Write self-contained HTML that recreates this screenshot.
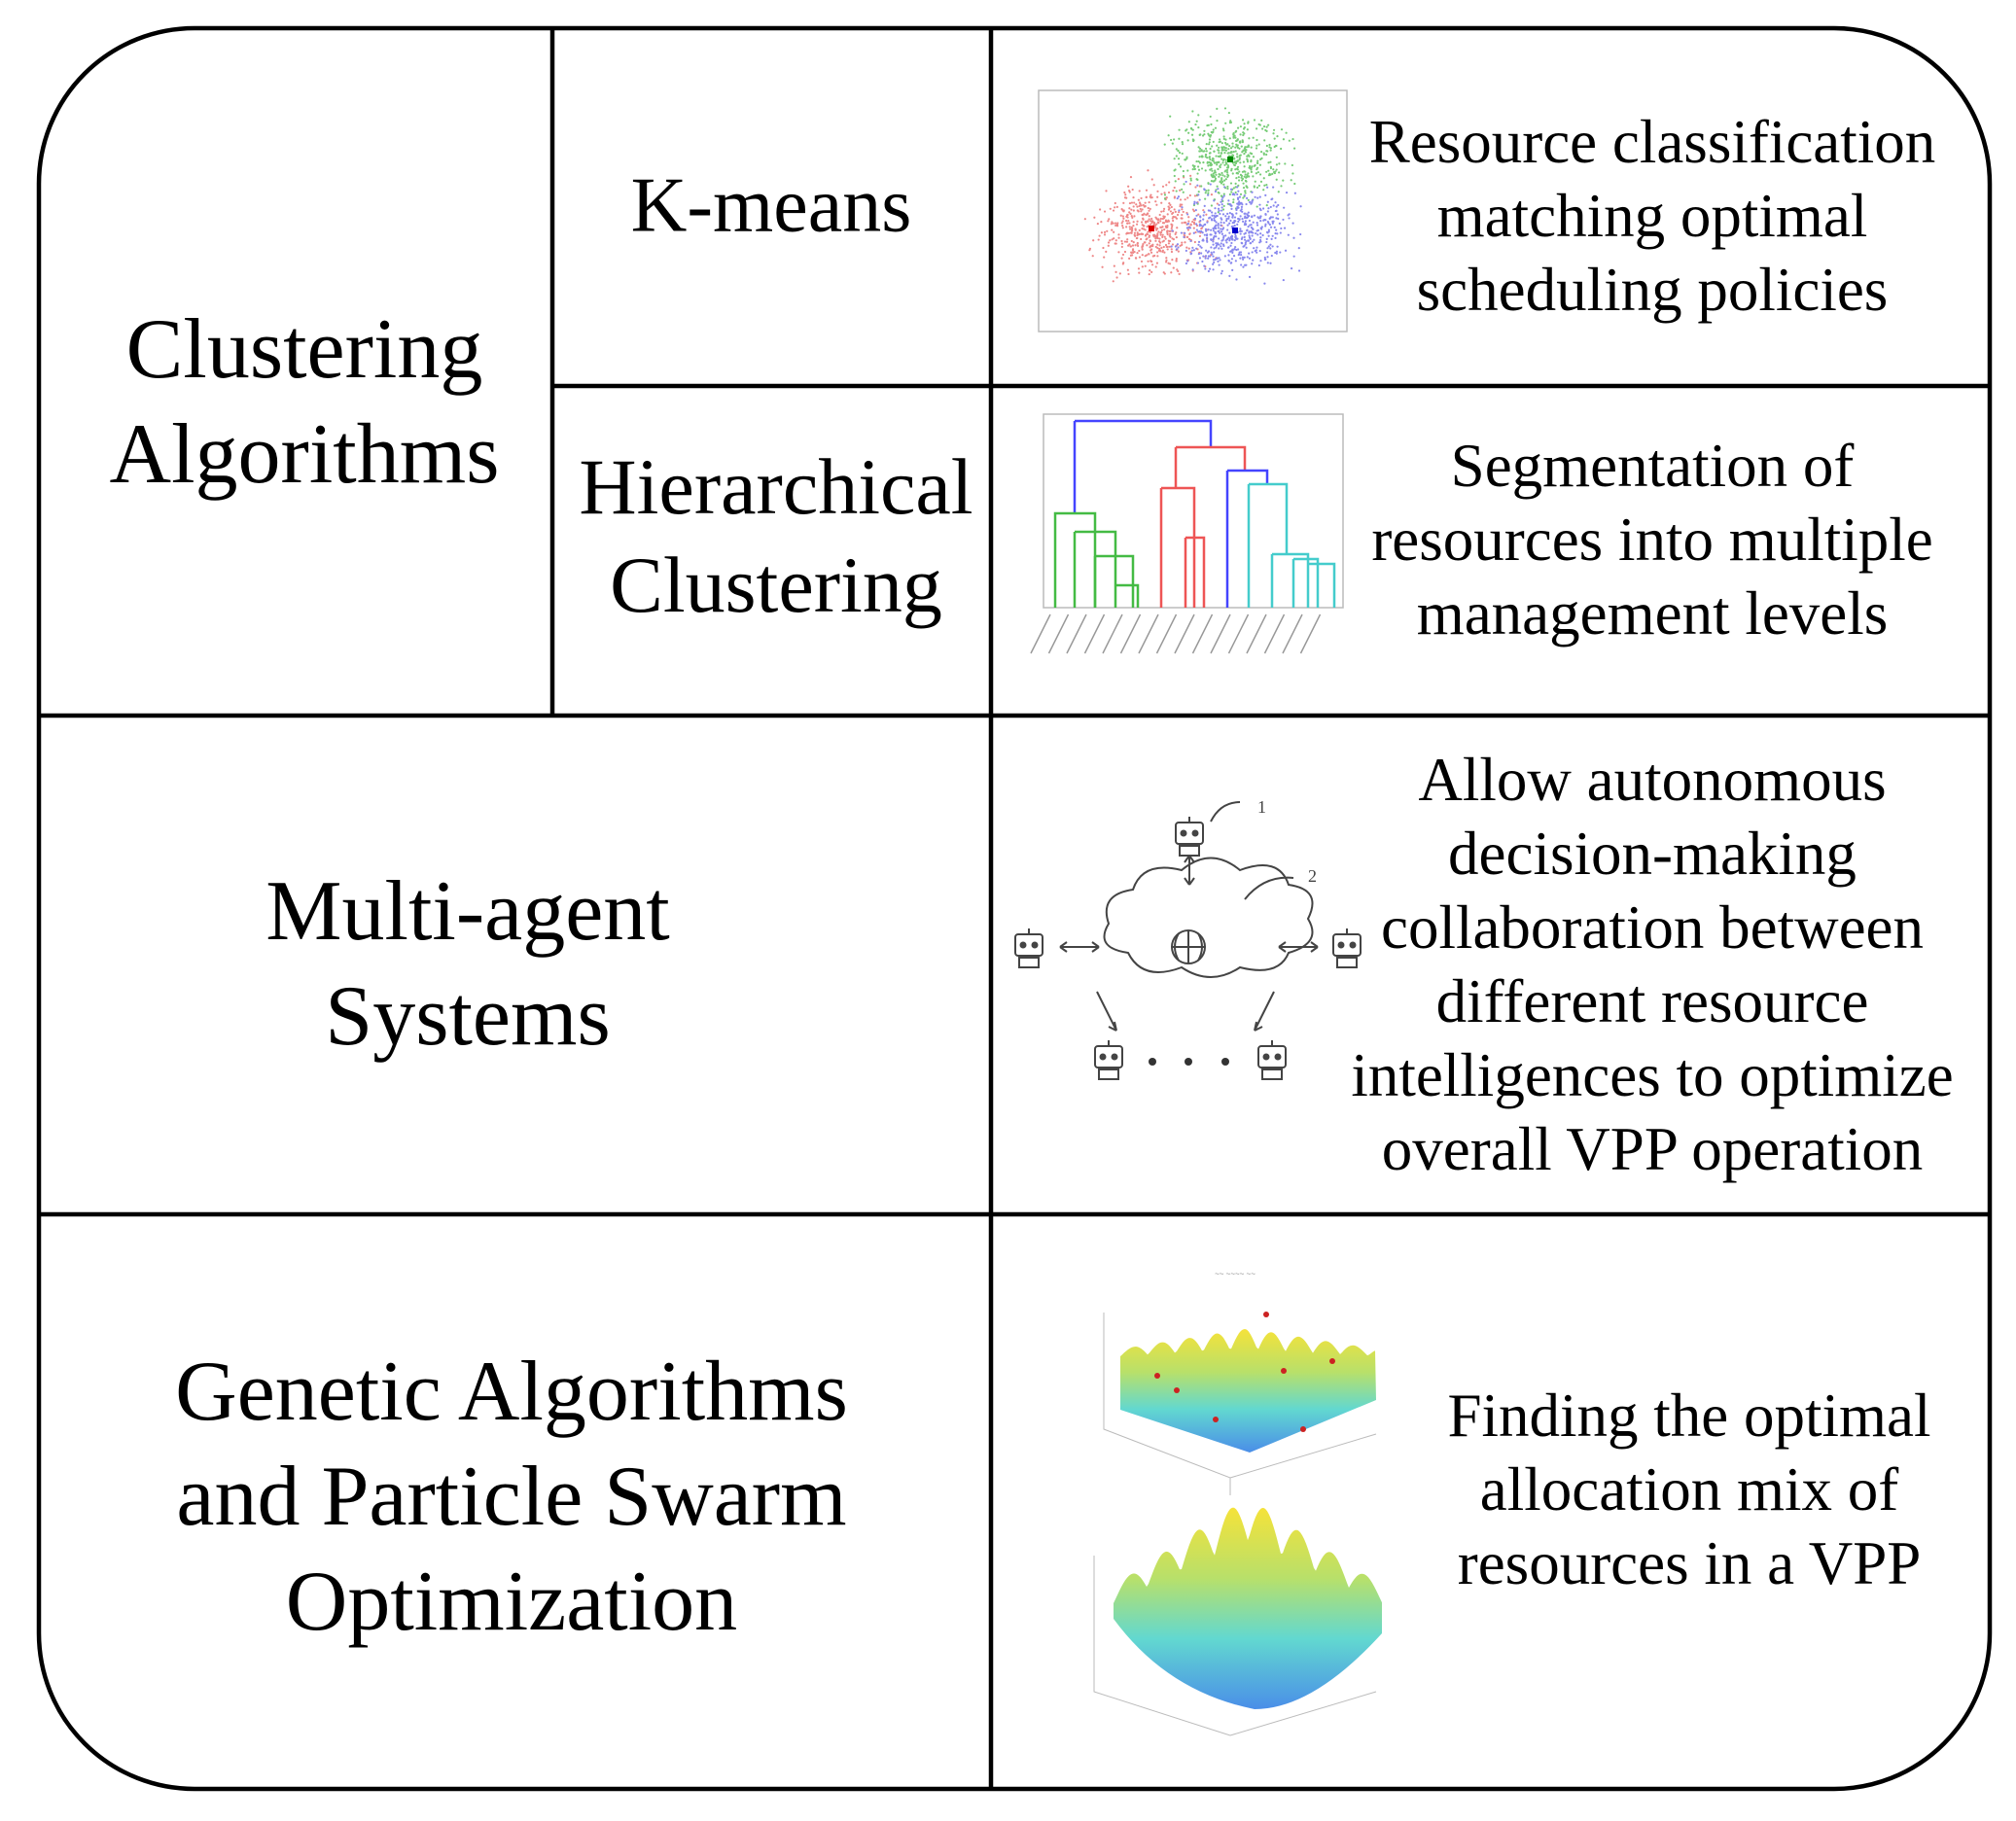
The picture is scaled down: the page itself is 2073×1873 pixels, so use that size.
<!DOCTYPE html>
<html><head><meta charset="utf-8">
<style>
html,body{margin:0;padding:0;background:#fff;}
body{width:2073px;height:1873px;position:relative;overflow:hidden;font-family:"Liberation Serif",serif;color:#000;}
.t{position:absolute;transform:translate(-50%,-50%);white-space:nowrap;text-align:center;}
.b{font-size:88px;line-height:108px;}
.s{font-size:63px;line-height:76px;}
</style></head><body>
<svg width="2073" height="1873" style="position:absolute;left:0;top:0" id="sv">
<rect x="40" y="29" width="2006" height="1811" rx="160" ry="160" fill="none" stroke="#000" stroke-width="4.5"/>
<line x1="568" y1="29" x2="568" y2="736" stroke="#000" stroke-width="4.5"/>
<line x1="1019" y1="29" x2="1019" y2="1840" stroke="#000" stroke-width="4.5"/>
<line x1="568" y1="397" x2="2046" y2="397" stroke="#000" stroke-width="4.5"/>
<line x1="40" y1="736" x2="2046" y2="736" stroke="#000" stroke-width="4.5"/>
<line x1="40" y1="1249" x2="2046" y2="1249" stroke="#000" stroke-width="4.5"/>
<!-- scatter -->
<rect x="1068" y="93" width="317" height="248" fill="none" stroke="#bbb" stroke-width="1.5"/>
<g id="dots"></g>
<rect x="1181" y="232" width="6" height="6" fill="#d00"/>
<rect x="1262" y="161" width="6" height="6" fill="#080"/>
<rect x="1267" y="234" width="6" height="6" fill="#00c"/>
<!-- dendrogram -->
<rect x="1073" y="426" width="308" height="199" fill="none" stroke="#bbb" stroke-width="1.5"/>
<g fill="none" stroke-width="2.5">
<path d="M1105 433 H1245 V460" stroke="#44f"/>
<path d="M1105 433 V528" stroke="#44f"/>
<path d="M1085 625 V528 H1126 V625" stroke="#4b4"/>
<path d="M1105 547 H1147 V625 M1105 547 V625 M1126 572 H1165 V625 M1126 572 V625 M1147 602 H1170 V625" stroke="#4b4"/>
<path d="M1209 460 H1280 V484 M1209 460 V502 M1194 502 H1228 V625 M1194 502 V625 M1219 553 H1238 V625 M1219 553 V625" stroke="#e55"/>
<path d="M1262 484 H1303 V498 M1262 484 V625" stroke="#44f"/>
<path d="M1284 498 H1323 V570 M1284 498 V625 M1308 570 H1345 V625 M1308 570 V625 M1330 575 H1355 V625 M1330 575 V625 M1345 580 H1372 V625" stroke="#4cc"/>
</g>
<g id="dlab" stroke="#999" stroke-width="1.5"></g>
<!-- multi-agent -->
<g fill="none" stroke="#444" stroke-width="2">
<path d="M1140 950 q-10 -30 25 -35 q10 -30 50 -20 q30 -25 60 0 q40 -15 50 15 q35 5 20 35 q15 25 -20 35 q-10 25 -50 15 q-30 20 -60 0 q-40 15 -55 -15 q-35 -5 -20 -30z" fill="#fff"/>
<circle cx="1222" cy="974" r="17"/><path d="M1205 974h34M1222 957v34M1212 960q-8 14 0 28M1232 960q8 14 0 28"/>
<path d="M1223 880v30M1223 910l-5-7M1223 910l5-7M1223 880l-5 7M1223 880l5 7"/>
<path d="M1090 974h40M1090 974l7-5M1090 974l7 5M1130 974l-7-5M1130 974l-7 5"/>
<path d="M1315 974h40M1315 974l7-5M1315 974l7 5M1355 974l-7-5M1355 974l-7 5"/>
<path d="M1148 1060l-20 -40M1148 1060l-2-9M1148 1060l-8-4"/>
<path d="M1290 1060l20 -40M1290 1060l2-9M1290 1060l8-4"/>
<path d="M1245 845q10-20 30-20M1280 925q20-25 50-22"/>
</g>
<g id="robots" fill="#fff" stroke="#444" stroke-width="2"></g>
<g fill="#333"><circle cx="1185" cy="1092" r="4"/><circle cx="1222" cy="1092" r="4"/><circle cx="1260" cy="1092" r="4"/></g>
<g font-family="Liberation Serif,serif" font-size="18" fill="#444"><text x="1293" y="836">1</text><text x="1345" y="907">2</text></g>
<!-- surfaces -->
<defs>
<linearGradient id="g1" x1="0" y1="0" x2="0" y2="1"><stop offset="0" stop-color="#f5e23a"/><stop offset="0.35" stop-color="#b8e06a"/><stop offset="0.65" stop-color="#62d8d0"/><stop offset="1" stop-color="#4a8ee8"/></linearGradient>
</defs>
<g stroke="#bbb" stroke-width="1" fill="none"><path d="M1135 1350v120l130 50 150-45M1265 1520v18M1125 1600v140l140 45 150-45"/></g>
<text x="1270" y="1313" font-family="Liberation Sans,sans-serif" font-size="8" fill="#888" text-anchor="middle">~~ ~~~~ ~~</text>
<path id="up" d="" fill="url(#g1)"/>
<g fill="#c22"><circle cx="1302" cy="1352" r="3"/><circle cx="1210" cy="1430" r="3"/><circle cx="1320" cy="1410" r="3"/><circle cx="1370" cy="1400" r="3"/><circle cx="1250" cy="1460" r="3"/><circle cx="1340" cy="1470" r="3"/><circle cx="1190" cy="1415" r="3"/></g>
<path id="lo" d="" fill="url(#g1)"/>
</svg>
<div class="t b" style="left:313px;top:414px">Clustering<br>Algorithms</div>
<div class="t" style="left:793px;top:212px;font-size:80px">K-means</div>
<div class="t" style="left:798px;top:551px;font-size:82px;line-height:101px">Hierarchical<br>Clustering</div>
<div class="t b" style="left:481px;top:992px">Multi-agent<br>Systems</div>
<div class="t b" style="left:526px;top:1540px">Genetic Algorithms<br>and Particle Swarm<br>Optimization</div>
<div class="t s" style="left:1699px;top:222px">Resource classification<br>matching optimal<br>scheduling policies</div>
<div class="t s" style="left:1699px;top:555px">Segmentation of<br>resources into multiple<br>management levels</div>
<div class="t s" style="left:1699px;top:992px">Allow autonomous<br>decision-making<br>collaboration between<br>different resource<br>intelligences to optimize<br>overall VPP operation</div>
<div class="t s" style="left:1737px;top:1532px">Finding the optimal<br>allocation mix of<br>resources in a VPP</div>
<script>
(function(){
var ns="http://www.w3.org/2000/svg",g=document.getElementById("dots"),s=12345;
function r(){s=(s*1103515245+12345)%2147483648;return s/2147483648;}
function n(){return (r()+r()+r()-1.5)*1.4;}
var cl=[[1185,235,"#e88"],[1265,165,"#7c7"],[1270,237,"#88e"]];
for(var k=0;k<3;k++)for(var i=0;i<550;i++){var c=document.createElementNS(ns,"circle");
c.setAttribute("cx",cl[k][0]+n()*38);c.setAttribute("cy",cl[k][1]+n()*30);c.setAttribute("r",1.1);c.setAttribute("fill",cl[k][2]);g.appendChild(c);}
var dl=document.getElementById("dlab"),h="";
for(var i=0;i<16;i++){var x=1080+i*18.5;h+='<line x1="'+x+'" y1="632" x2="'+(x-20)+'" y2="672"/>';}
dl.innerHTML=h;
// upper surface
var d="M1152 1395";
for(var x=1152;x<=1415;x+=2){var y=1395-Math.abs(Math.sin((x-1152)/9))*22*(1-Math.abs(x-1283)/200)-((x-1152)<131?(x-1152)*0.05:(1415-x)*0.05);d+=" L"+x+" "+y.toFixed(1);}
d+=" L1415 1440 L1285 1494 L1152 1450 Z";document.getElementById("up").setAttribute("d",d);
var d2="M1145 1665";
for(var x=1145;x<=1421;x+=2){var t=(x-1283)/138;var env=1-Math.abs(t)*0.6;var y=1665-env*(40+45*Math.abs(Math.sin((x-1145)/11)))-(1-Math.abs(t))*40;d2+=" L"+x+" "+y.toFixed(1);}
d2+=" L1421 1680 Q1350 1758 1290 1758 Q1200 1740 1145 1665 Z";document.getElementById("lo").setAttribute("d",d2);
var rb=document.getElementById("robots");
[[1223,860],[1058,975],[1385,975],[1140,1090],[1308,1090]].forEach(function(p){
rb.insertAdjacentHTML("beforeend",'<rect x="'+(p[0]-14)+'" y="'+(p[1]-14)+'" width="28" height="22" rx="3" fill="#fff" stroke="#444" stroke-width="2"/><circle cx="'+(p[0]-6)+'" cy="'+(p[1]-3)+'" r="2.5" fill="#444"/><circle cx="'+(p[0]+6)+'" cy="'+(p[1]-3)+'" r="2.5" fill="#444"/><rect x="'+(p[0]-10)+'" y="'+(p[1]+10)+'" width="20" height="10" fill="#fff" stroke="#444" stroke-width="2"/><line x1="'+p[0]+'" y1="'+(p[1]-14)+'" x2="'+p[0]+'" y2="'+(p[1]-20)+'" stroke="#444" stroke-width="2"/>');});
})();
</script>
</body></html>
